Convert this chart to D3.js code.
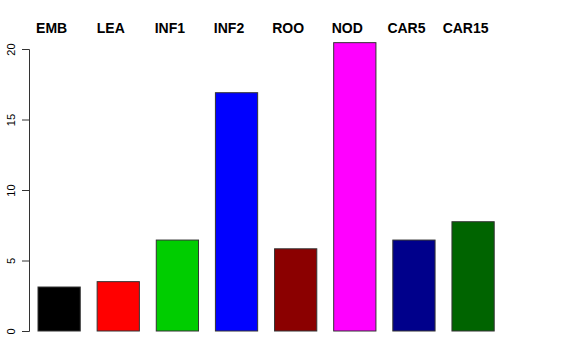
<!DOCTYPE html>
<head>
<meta charset="utf-8">
<style>
    body { margin: 0; background: #fff; }
    text { font-family: "Liberation Sans", Arial, sans-serif; }
</style>
<script src="https://d3js.org/d3.v7.min.js"></script>
</head>
<body>
<script>
var groups = ["EMB", "LEA", "INF1", "INF2", "ROO", "NOD", "CAR5", "CAR15"];
var values = [3.12, 3.5, 6.45, 16.9, 5.83, 20.45, 6.45, 7.75];
var colors = ["#000000", "#ff0000", "#00cd00", "#0000ff", "#8b0000", "#ff00ff", "#00008b", "#006400"];
var yTicks = [0, 5, 10, 15, 20];

var width = 576, height = 360;

var svg = d3.select("body").append("svg")
    .attr("width", width)
    .attr("height", height);

// R style barplot: bar width 1, space 0.4
var n = groups.length;
var space = 0.4;
var x = d3.scaleLinear()
    .domain([space, n * (1 + space)])
    .range([38, 494.2]);
function left(i) { return space + i * (1 + space); }

var y = d3.scaleLinear()
    .domain([0, 20])
    .range([331, 49]);

var bars = svg.append("g");
bars.selectAll("rect")
    .data(values)
    .enter().append("rect")
    .attr("x", function(d, i) { return x(left(i)); })
    .attr("width", function(d, i) { return x(left(i) + 1) - x(left(i)); })
    .attr("y", function(d) { return y(d); })
    .attr("height", function(d) { return y(0) - y(d); })
    .attr("fill", function(d, i) { return colors[i]; })
    .attr("stroke", "#333")
    .attr("stroke-width", 1);

// group names on top (sit a little left of the bar centres)
svg.append("g").selectAll("text")
    .data(groups)
    .enter().append("text")
    .attr("x", function(d, i) { return x(left(i) + 0.5) - 7.5; })
    .attr("y", 33)
    .attr("text-anchor", "middle")
    .attr("font-size", "14px")
    .attr("font-weight", "bold")
    .attr("fill", "#000")
    .text(function(d) { return d; });

// y axis
var yAxis = svg.append("g")
    .attr("transform", "translate(29,0)")
    .call(d3.axisLeft(y).tickValues(yTicks).tickSize(7).tickPadding(0).tickFormat(d3.format("d")));
yAxis.select(".domain").attr("stroke", "#333");
yAxis.selectAll(".tick line").attr("stroke", "#333");
yAxis.selectAll(".tick text")
    .attr("font-size", "11px")
    .attr("font-family", "Liberation Sans, Arial, sans-serif")
    .attr("fill", "#000")
    .attr("text-anchor", "middle")
    .attr("transform", "translate(-18,0) rotate(-90)")
    .attr("x", 0)
    .attr("dy", "0.35em");
</script>
</body>
